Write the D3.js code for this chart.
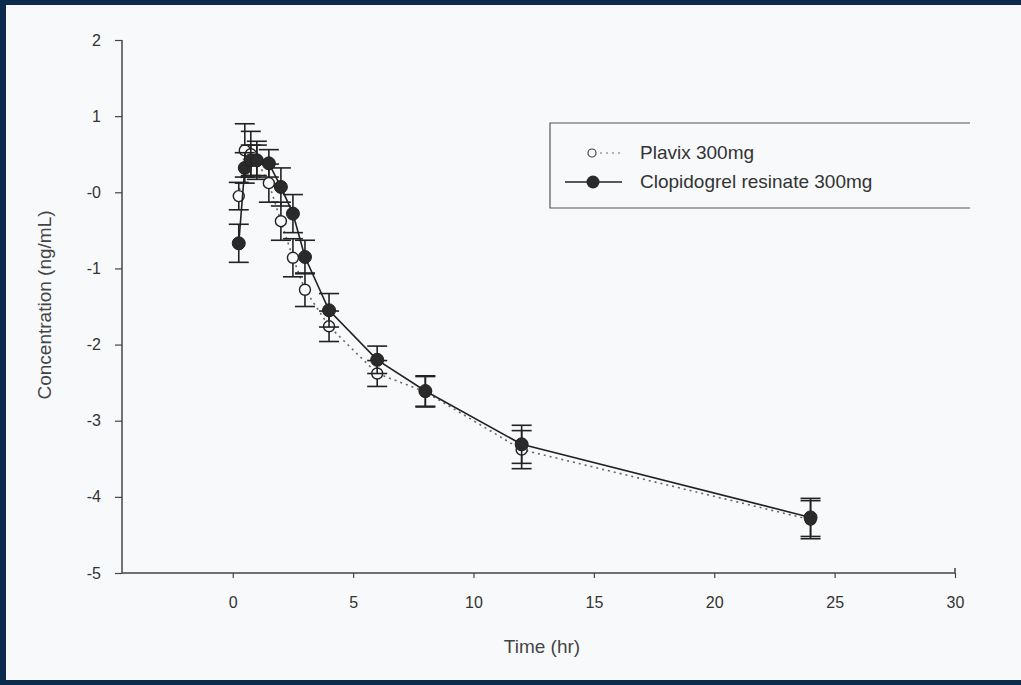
<!DOCTYPE html>
<html><head><meta charset="utf-8">
<script src="https://cdn.jsdelivr.net/npm/d3@7"></script>
<style>html,body{margin:0;padding:0;background:#f8f9fb;overflow:hidden;} svg{display:block;} text{font-family:"Liberation Sans",Arial,sans-serif;}</style>
</head><body>
<svg id="c" width="1021" height="685"></svg>
<script>
const times = [0.25, 0.5, 0.75, 1, 1.5, 2, 2.5, 3, 4, 6, 8, 12, 24];
const plavixMean = [-0.05, 0.55, 0.5, 0.42, 0.12, -0.38, -0.86, -1.28, -1.76, -2.38, -2.62, -3.38, -4.3];
const plavixErr  = [0.18, 0.35, 0.3, 0.25, 0.25, 0.25, 0.25, 0.22, 0.2, 0.17, 0.2, 0.25, 0.25];
const resinateMean = [-0.67, 0.32, 0.42, 0.42, 0.38, 0.07, -0.28, -0.85, -1.55, -2.2, -2.61, -3.31, -4.27];
const resinateErr  = [0.25, 0.2, 0.2, 0.2, 0.18, 0.25, 0.25, 0.22, 0.22, 0.18, 0.2, 0.25, 0.25];
const yTicks = [2, 1, 0, -1, -2, -3, -4, -5];
const yTickLabels = ["2", "1", "-0", "-1", "-2", "-3", "-4", "-5"];
const xTicks = [0, 5, 10, 15, 20, 25, 30];
const seriesNames = ["Plavix 300mg", "Clopidogrel resinate 300mg"];

const svg = d3.select("#c");
svg.append("rect").attr("x",0).attr("y",0).attr("width",1021).attr("height",685).attr("fill","#0b2a4c");
svg.append("rect").attr("x",6).attr("y",5).attr("width",1015).attr("height",675).attr("fill","#f8f9fb");

const x = d3.scaleLinear().domain([-4.6, 30]).range([122, 955]);
const y = d3.scaleLinear().domain([-5, 2]).range([573, 40]);
const ink = "#333";

// Y axis
const ya = svg.append("g").attr("transform","translate(122,0)")
  .call(d3.axisLeft(y).tickValues(yTicks).tickSize(7).tickPadding(14)
    .tickFormat((d,i)=>yTickLabels[i]));
ya.select(".domain").attr("stroke","#444").attr("stroke-width",1.5).attr("d","M0,40V573");
ya.selectAll(".tick line").attr("stroke","#444").attr("stroke-width",1.2);
ya.selectAll("text").attr("font-size",16).attr("fill",ink);

// X axis
const xa = svg.append("g").attr("transform","translate(0,573)")
  .call(d3.axisBottom(x).tickValues(xTicks).tickSize(5).tickPadding(19));
xa.select(".domain").attr("stroke","#444").attr("stroke-width",1.5).attr("d","M122,0H955V-5");
xa.selectAll(".tick line").attr("stroke","#444").attr("stroke-width",1.2);
xa.selectAll("text").attr("font-size",16).attr("fill",ink);

svg.append("text").attr("x",542).attr("y",653).attr("text-anchor","middle")
  .attr("font-size",19).attr("fill","#444").text("Time (hr)");
svg.append("text").attr("transform","translate(51,305) rotate(-90)").attr("text-anchor","middle")
  .attr("font-size",19).attr("fill","#444").text("Concentration (ng/mL)");

function series(mean, err, filled){
  const pts = times.map((t,i)=>({t, m:mean[i], e:err[i]}));
  const g = svg.append("g");
  g.append("path").datum(pts)
    .attr("d", d3.line().x(d=>x(d.t)).y(d=>y(d.m)))
    .attr("fill","none")
    .attr("stroke", filled ? "#222" : "#666")
    .attr("stroke-width", 1.6)
    .attr("stroke-dasharray", filled ? null : "2,4");
  const eb = g.selectAll(".eb").data(pts).enter().append("g");
  eb.append("line").attr("x1",d=>x(d.t)).attr("x2",d=>x(d.t))
    .attr("y1",d=>y(d.m+d.e)).attr("y2",d=>y(d.m-d.e))
    .attr("stroke","#222").attr("stroke-width",1.6);
  [1,-1].forEach(s=>{
    eb.append("line").attr("x1",d=>x(d.t)-10).attr("x2",d=>x(d.t)+10)
      .attr("y1",d=>y(d.m+s*d.e)).attr("y2",d=>y(d.m+s*d.e))
      .attr("stroke","#222").attr("stroke-width",1.6);
  });
  g.selectAll(".pt").data(pts).enter().append("circle")
    .attr("cx",d=>x(d.t)).attr("cy",d=>y(d.m))
    .attr("r", filled ? 6.5 : 5.5)
    .attr("fill", filled ? "#2a2a2a" : "#f8f9fb")
    .attr("stroke","#222").attr("stroke-width", filled ? 1 : 1.4);
}
series(plavixMean, plavixErr, false);
series(resinateMean, resinateErr, true);

// Legend
const lg = svg.append("g");
lg.append("path").attr("d","M970,123H550V208H970").attr("fill","none").attr("stroke","#555").attr("stroke-width",1.2);
lg.append("line").attr("x1",600).attr("x2",622).attr("y1",153).attr("y2",153)
  .attr("stroke","#999").attr("stroke-width",1.4).attr("stroke-dasharray","2,4");
lg.append("circle").attr("cx",592).attr("cy",153).attr("r",4).attr("fill","#f8f9fb").attr("stroke","#444").attr("stroke-width",1.2);
lg.append("line").attr("x1",565).attr("x2",622).attr("y1",182).attr("y2",182).attr("stroke","#222").attr("stroke-width",1.6);
lg.append("circle").attr("cx",593).attr("cy",182).attr("r",6.5).attr("fill","#2a2a2a");
lg.selectAll(".lt").data(seriesNames).enter().append("text")
  .attr("x",640).attr("y",(d,i)=>159 + i*29).attr("font-size",19).attr("fill","#333").text(d=>d);
</script>
</body></html>
